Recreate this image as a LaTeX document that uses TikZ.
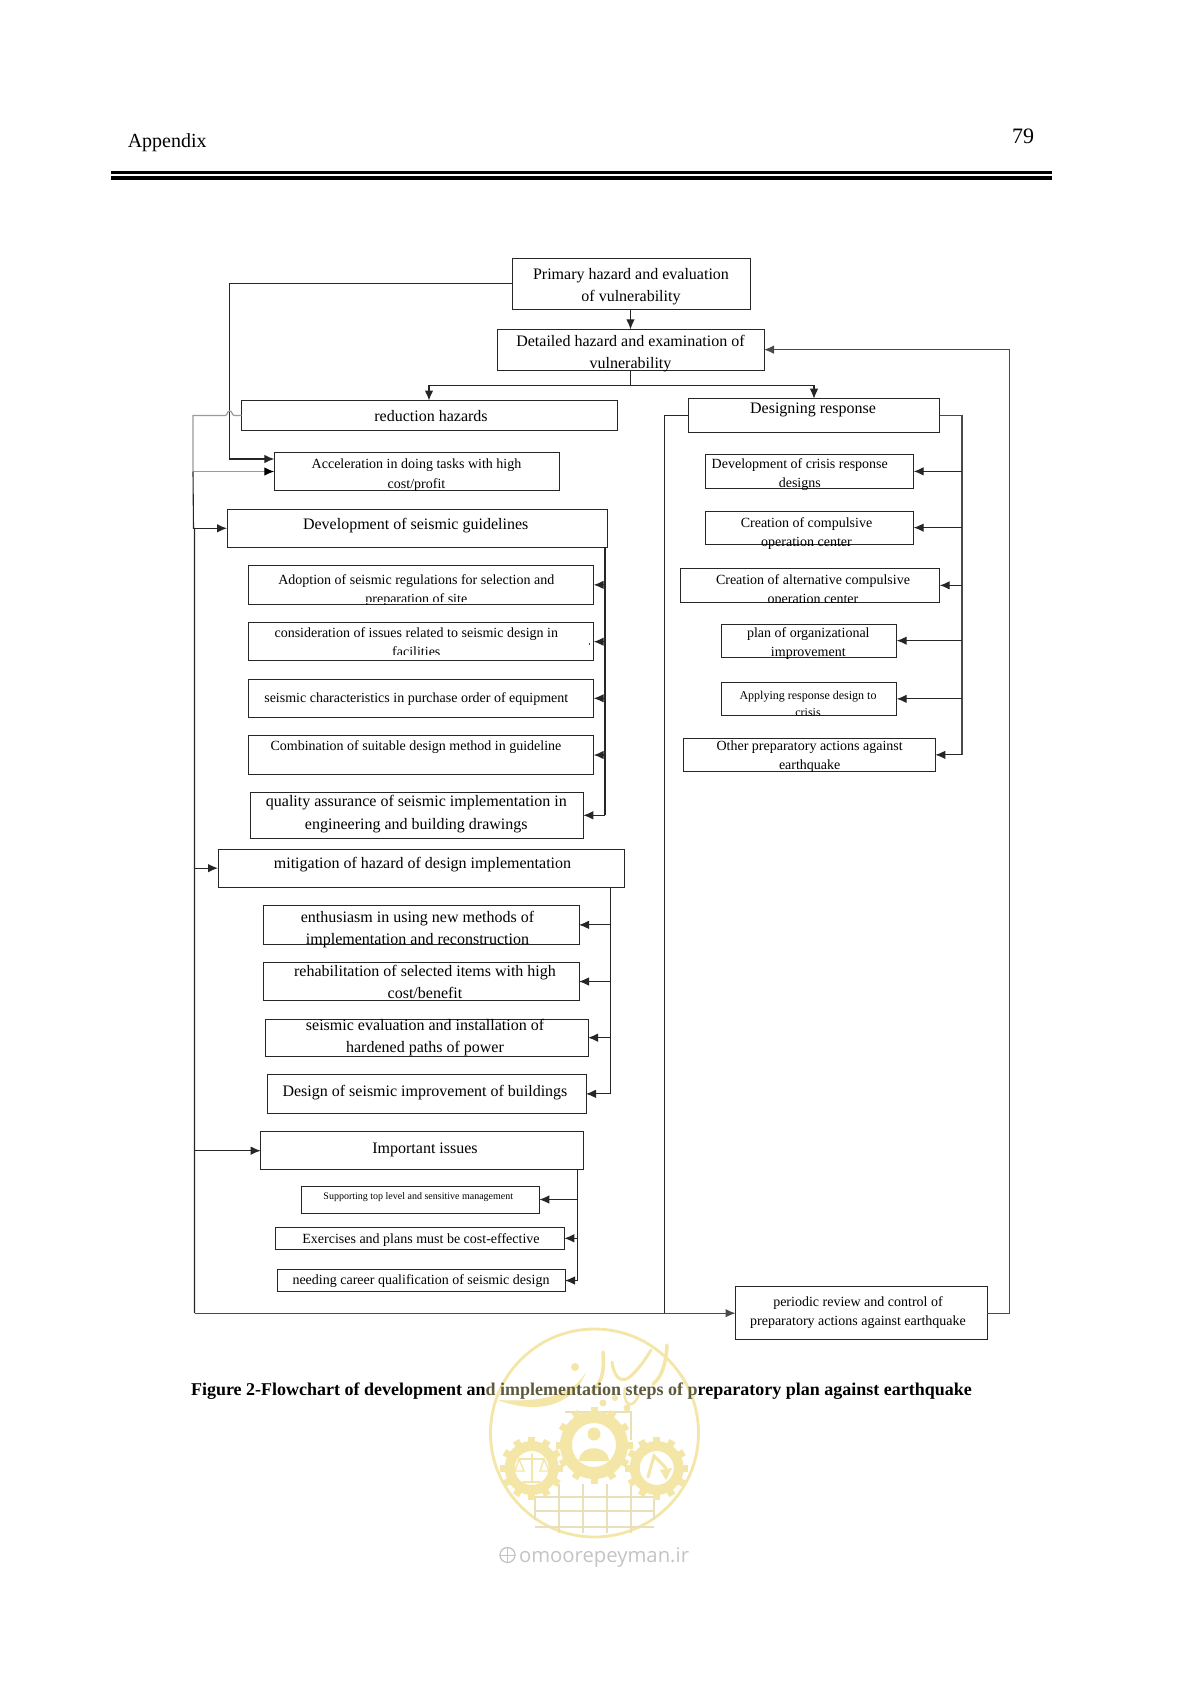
\documentclass[tikz,border=0pt]{standalone}
\usepackage{fontspec}
\setmainfont{Liberation Serif}
\newfontfamily\sitefont{Open Sans}
\usepackage{array}
\usetikzlibrary{arrows.meta,calc}
\definecolor{ink}{HTML}{262626}
\definecolor{soft}{HTML}{4A4A4A}
\definecolor{hop}{HTML}{9A9A9A}
\definecolor{wmy}{HTML}{F4E6A6}
\definecolor{wml}{HTML}{E8E0B8}
\definecolor{wmg}{HTML}{C4C4C4}
\definecolor{faded}{HTML}{5E5A3C}
\tikzset{
  boxn/.style={draw=ink,line width=1pt,rectangle,inner sep=0pt,outer sep=0pt},
  conn/.style={draw=ink,line width=1.1pt},
  softconn/.style={draw=soft,line width=1.2pt},
  arr/.style={-{Latex[length=10pt,width=8.5pt]},line join=miter},
  free/.style={inner sep=0pt,outer sep=0pt,text=black},
  wmline/.style={draw=wmy,line width=2.2pt,line cap=round},
}
\def\leadf{1.38}
% name, x1,y1,x2,y2, font size, text centre x, first baseline y, text
\newcommand\bx[9]{%
  \pgfmathsetmacro\cxx{(#2+#4)/2}%
  \pgfmathsetmacro\cyy{(#3+#5)/2}%
  \pgfmathsetmacro\wdd{#4-#2}%
  \pgfmathsetmacro\htt{#5-#3}%
  \pgfmathsetmacro\dxx{2*(#7-\cxx)}%
  \pgfmathsetmacro\dyy{\cyy-#8}%
  \pgfmathsetmacro\ldd{#6*\leadf}%
  \node[boxn,minimum width=\wdd pt,minimum height=\htt pt] (#1) at (\cxx,\cyy)
   {\makebox[0pt][c]{\hspace*{\dxx pt}\raisebox{\dyy pt}[0pt][0pt]{\fontsize{#6}{\ldd}\selectfont
     \begin{tabular}[t]{@{}c@{}}#9\end{tabular}}}};%
}
\newcommand\gearw[4]{%
  \foreach \a in {0,30,...,330}
    \fill[wmy,rotate around={\a:(#1,#2)}] (#1-3.5,#2-#3-4.5) rectangle (#1+3.5,#2-#3+3);
  \fill[wmy,even odd rule] (#1,#2) circle (#3) (#1,#2) circle (#4);
}
\begin{document}
\begin{tikzpicture}[x=1pt,y=-1pt]
\useasboundingbox (0,0) rectangle (1191,1684);
\fill[white] (0,0) rectangle (1191,1684);

% watermark (lies behind the caption)
\draw[wmy,line width=2.8pt] (594.5,1433) circle (104);
\foreach \yy in {1497,1511,1527}
  \draw[wml,line width=2.2pt] (535,\yy) -- (654,\yy);
\foreach \xx in {535,654}
  \draw[wml,line width=2.2pt] (\xx,1497) -- (\xx,1520);
\foreach \xx in {559,583,607,631}
  \draw[wml,line width=2.2pt] (\xx,1484) -- (\xx,1533);
\draw[wml,line width=2.2pt] (565,1412) -- (631,1412) -- (631,1440);
\gearw{594}{1445}{34}{22}
\gearw{531.7}{1468}{27}{17}
\gearw{656.7}{1468}{27}{17}
\fill[wmy] (594,1434) circle (6.5);
\fill[wmy] (579,1461) .. controls (579,1444) and (609,1444) .. (609,1461) -- cycle;
\draw[wmline,line width=1.6pt] (531.7,1454) -- (531.7,1482) (519,1459) -- (544,1459) (523,1482) -- (540,1482);
\draw[wmline,line width=1.4pt] (519,1459) -- (515,1471) -- (524,1471) -- cycle (544,1459) -- (540,1471) -- (549,1471) -- cycle;
\draw[wmline,line width=3pt] (648,1477) -- (654,1456) -- (666,1468);
\fill[wmy] (660,1470) -- (672,1468) -- (666,1480) -- cycle;
% calligraphy
\fill[wmy] (498,1400) .. controls (535,1414) and (572,1408) .. (586,1372) .. controls (572,1398) and (535,1402) .. (498,1400) -- cycle;
\draw[wmline,line width=3.5pt] (603,1352) .. controls (604,1368) and (604,1380) .. (592,1392);
\draw[wmline,line width=3pt] (612,1362) .. controls (614,1378) and (622,1385) .. (632,1375) .. controls (642,1365) and (646,1358) .. (651,1350);
\draw[wmline,line width=3.5pt] (667,1345) .. controls (666,1365) and (661,1378) .. (653,1384);
\draw[wmline,line width=2.5pt] (625,1388) .. controls (622,1403) and (632,1413) .. (639,1394);
\fill[wmy] (575,1367) circle (4) (627,1408) circle (3.5) (603,1403) circle (3.5) (615,1398) circle (3);
% site line
\draw[wmg,line width=1.3pt] (507.5,1555) circle (7.5);
\draw[wmg,line width=1pt] (500,1555) -- (515,1555) (507.5,1547.5) -- (507.5,1562.5);
\node[free,anchor=base west,text=wmg,font=\fontsize{20.3}{24}\selectfont\sitefont] (site) at (519,1562) {omoorepeyman.ir};

% page header
\node[free,anchor=base west,font=\fontsize{20}{24}\selectfont] (apx) at (127.8,147) {Appendix};
\node[free,anchor=base east,font=\fontsize{22}{26}\selectfont] (pg) at (1034,143.5) {79};
\fill[black] (110.5,171.3) rectangle (1052,174);
\fill[black] (110.5,175.8) rectangle (1052,179.7);

% top
\bx{primary}{512}{258}{750.5}{309.5}{16}{631}{279.3}{Primary hazard and evaluation\\of vulnerability}
\bx{detailed}{497}{329.3}{764}{370}{16}{630.5}{346}{Detailed hazard and examination of\\vulnerability}
\bx{reduction}{241.7}{400.5}{617.3}{430.3}{16}{431}{421}{reduction hazards}
\bx{designing}{688.5}{398.7}{939.5}{432}{16}{813}{413}{Designing response}

% left column
\def\leadf{1.43}
\bx{accel}{274.3}{452.3}{559.7}{490.7}{14}{416.5}{468.3}{Acceleration in doing tasks with high\\cost/profit}
\def\leadf{1.38}
\bx{dev}{227}{509.3}{607.3}{547.3}{16}{415.7}{529.6}{Development of seismic guidelines}
\bx{adopt}{248.3}{565.7}{593.7}{604}{14}{416.3}{584.3}{Adoption of seismic regulations for selection and\\preparation of site}
\bx{consid}{248.3}{622.7}{593.7}{660.7}{14}{416.3}{637}{consideration of issues related to seismic design in\\facilities}
\bx{charact}{248.3}{679.3}{593.7}{717.3}{14}{416.3}{702.3}{seismic characteristics in purchase order of equipment}
\bx{combo}{248.3}{735.7}{593.7}{774.3}{14}{416}{750.3}{Combination of suitable design method in guideline}
\def\leadf{1.43}
\bx{quality}{250.7}{792.3}{583.3}{838.3}{16}{416.3}{806.3}{quality assurance of seismic implementation in\\engineering and building drawings}
\def\leadf{1.38}
\bx{mitig}{218}{849}{624.3}{887.3}{16}{422.5}{868.3}{mitigation of hazard of design implementation}
\bx{enthus}{263}{905.7}{579}{944}{16}{417.5}{922}{enthusiasm in using new methods of\\implementation and reconstruction}
\bx{rehab}{263}{962.3}{579}{1000.7}{16}{425}{976}{rehabilitation of selected items with high\\cost/benefit}
\bx{evalu}{265.3}{1019}{588}{1056.3}{16}{425}{1030}{seismic evaluation and installation of\\hardened paths of power}
\bx{improve}{267.7}{1074.7}{586}{1113}{16}{425}{1096}{Design of seismic improvement of buildings}
\bx{important}{260.7}{1131.7}{583.7}{1169.7}{16}{425}{1153}{Important issues}
\bx{support}{301.3}{1186}{539.3}{1213}{10}{418.3}{1199}{Supporting top level and sensitive management}
\bx{exerc}{275.7}{1227.3}{564.3}{1249.3}{14}{421}{1243.5}{Exercises and plans must be cost-effective}
\bx{needing}{277}{1269.3}{565}{1291.7}{14}{421}{1284.5}{needing career qualification of seismic design}

% right column
\bx{crisis}{705.5}{454.7}{913.7}{488}{14}{799.8}{468.5}{Development of crisis response\\designs}
\bx{compuls}{705}{511}{913.7}{544.3}{14}{806.5}{527.5}{Creation of compulsive\\operation center}
\bx{altern}{680}{568.7}{939.7}{602}{14}{813}{584}{Creation of alternative compulsive\\operation center}
\bx{organiz}{721.7}{624.3}{896.7}{657}{14}{808.3}{637.3}{plan of organizational\\improvement}
\bx{applying}{721.7}{682}{896.7}{715.7}{12}{808}{699.5}{Applying response design to\\crisis}
\bx{other}{683.3}{738.7}{935.3}{771}{14}{809.7}{750.3}{Other preparatory actions against\\earthquake}
\bx{periodic}{735.5}{1286.7}{987}{1339.7}{14}{858}{1306.5}{periodic review and control of\\preparatory actions against earthquake}

% letters cut off in the reference: hide their lower part, keep the border
\fill[white] (600,302.6) rectangle (670,308.8);
\fill[white] (350,602.4) rectangle (490,603.4);
\fill[white] (350,604.6) rectangle (490,609);
\fill[white] (370,655.2) rectangle (470,660);
\fill[white] (740,602.6) rectangle (880,607);
\fill[white] (780,716.3) rectangle (840,721);

% bus coordinates
\coordinate (busL) at (194.5,0);
\coordinate (busM) at (664.5,0);
\coordinate (busR) at (962,0);
\coordinate (busFB) at (1009.5,0);
\coordinate (trunkA) at (605,0);
\coordinate (trunkB) at (610.3,0);
\coordinate (trunkC) at (577.7,0);
\coordinate (branch) at (0,385.3);
\coordinate (primIn) at (274.3,459);
\coordinate (primTurn) at (229.7,0);
\coordinate (grayTop) at (193,0);
\coordinate (dRight) at (814,0);

% top connectors
\draw[conn,arr] (primary.south -| detailed.north) -- (detailed.north);
\draw[conn] (detailed.south) -- (detailed.south |- branch);
\draw[conn,arr] (detailed.south |- branch) -- (429,385.3) -- (429,400.5);
\draw[conn,arr] (detailed.south |- branch) -- (dRight |- branch) -- (dRight |- designing.north);
\draw[conn,arr] (primary.west) -- (primTurn |- primary.west) -- (primTurn |- primIn) -- (primIn);

% grey loop from reduction hazards
\draw[draw=hop,line width=1.2pt] (reduction.west) -- (234,415.4) .. controls (232,415.4) and (232.5,411) .. (229.7,411) .. controls (227,411) and (227.5,415.4) .. (225.5,415.4) -- (grayTop |- reduction.west) -- (grayTop |- accel.west);
\draw[draw=hop,line width=1.2pt,-{Latex[length=10pt,width=8.5pt,black]}] (grayTop |- accel.west) -- (accel.west);

% left bus
\draw[conn] (grayTop |- accel.west) -- (193.5,528.3) -- (busL |- dev.west) -- (busL |- periodic.west);
\draw[conn,arr] (busL |- dev.west) -- (dev.west);
\draw[conn,arr] (busL |- mitig.west) -- (mitig.west);
\draw[conn,arr] (busL |- important.west) -- (important.west);
\draw[softconn,arr] (busL |- periodic.west) -- (periodic.west);

% guidelines trunk
\draw[conn] (dev.south -| trunkA) -- (trunkA |- quality.east);
\draw[conn,arr] (trunkA |- adopt.east) -- (adopt.east);
\draw[conn,arr] (trunkA |- consid.east) -- (consid.east);
\draw[conn,arr] (trunkA |- charact.east) -- (charact.east);
\draw[conn,arr] (trunkA |- combo.east) -- (combo.east);
\draw[conn,arr] (trunkA |- quality.east) -- (quality.east);
\draw[soft,line width=1pt] (589,642.5) -- (589,645);

% mitigation trunk
\draw[conn] (mitig.south -| trunkB) -- (trunkB |- improve.east);
\draw[conn,arr] (trunkB |- enthus.east) -- (enthus.east);
\draw[conn,arr] (trunkB |- rehab.east) -- (rehab.east);
\draw[conn,arr] (trunkB |- evalu.east) -- (evalu.east);
\draw[conn,arr] (trunkB |- improve.east) -- (improve.east);

% important issues trunk
\draw[conn] (important.south -| trunkC) -- (trunkC |- needing.east);
\draw[conn,arr] (trunkC |- support.east) -- (support.east);
\draw[conn,arr] (trunkC |- exerc.east) -- (exerc.east);
\draw[conn,arr] (trunkC |- needing.east) -- (needing.east);

% designing response
\draw[conn] (designing.west) -- (busM |- designing.west) -- (busM |- periodic.west);
\draw[softconn] (designing.east) -- (busR |- designing.east) -- (busR |- other.east);
\draw[conn,arr] (busR |- crisis.east) -- (crisis.east);
\draw[conn,arr] (busR |- compuls.east) -- (compuls.east);
\draw[conn,arr] (busR |- altern.east) -- (altern.east);
\draw[conn,arr] (busR |- organiz.east) -- (organiz.east);
\draw[conn,arr] (busR |- applying.east) -- (applying.east);
\draw[conn,arr] (busR |- other.east) -- (other.east);

% feedback
\draw[softconn,arr] (periodic.east) -- (busFB |- periodic.east) -- (busFB |- detailed.east) -- (detailed.east);

% caption
\node[free,anchor=base west,font=\fontsize{18}{22}\selectfont\bfseries] (cap) at (191,1395) {Figure 2-Flowchart of development an\textcolor{faded}{d implementation steps of p}reparatory plan against earthquake};
\end{tikzpicture}
\end{document}
